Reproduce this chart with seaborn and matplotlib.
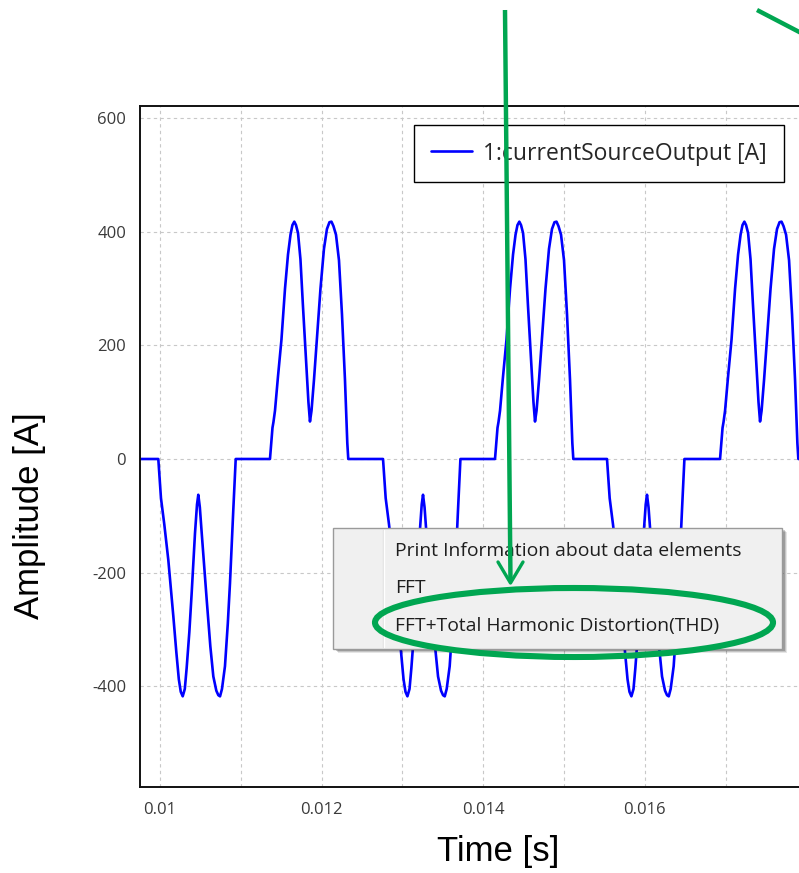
import pandas as pd
import seaborn as sns
import matplotlib.pyplot as plt
from matplotlib.patches import Rectangle, Ellipse
from matplotlib.lines import Line2D

# --- data ---
# start time of each current pulse [s] and its polarity
pulse_starts = [0.009979, 0.011361, 0.012760, 0.014146, 0.015532, 0.016931]
pulse_kind = ["neg", "pos", "neg", "pos", "neg", "pos"]

# positive pulse: offset from pulse start [us] and amplitude [A]
pos_offset_us = [0, 31, 43, 62, 99, 142, 186, 223, 254, 278, 301, 322, 347, 377, 408, 446, 476,
                 495, 514, 545, 582, 625, 668, 705, 736, 761, 786, 817, 854, 891, 928, 957, 969]
pos_amp = [0, 55, 65, 85, 145, 210, 300, 360, 395, 412, 418, 412, 398, 352, 270, 175, 100,
           66, 85, 140, 215, 300, 370, 405, 417, 418, 410, 395, 350, 255, 140, 28, 0]

# negative pulse: offset from pulse start [us] and amplitude [A]
neg_offset_us = [0, 33, 74, 124, 186, 223, 254, 278, 302, 328, 351, 384, 413, 454, 479,
                 495, 514, 537, 599, 644, 681, 718, 743, 764, 788, 825, 860, 887, 928, 958]
neg_amp = [0, -69, -115, -178, -277, -340, -388, -410, -418, -405, -368, -305, -236, -131, -80,
           -63, -85, -130, -248, -330, -383, -408, -416, -418, -405, -365, -290, -219, -90, 0]

t_first, t_last = 0.00975, 0.01866

x_ticks = [0.010, 0.012, 0.014, 0.016]
x_labels = ["0.01", "0.012", "0.014", "0.016"]
x_minor = [0.011, 0.013, 0.015, 0.017]
y_ticks = [600, 400, 200, 0, -200, -400]
y_labels = ["600", "400", "200", "0", "-200", "-400"]

menu_items = ["Print Information about data elements", "FFT", "FFT+Total Harmonic Distortion(THD)"]

# build the time series from the pulses
t = [t_first]
amp = [0]
for start, kind in zip(pulse_starts, pulse_kind):
    off, val = (pos_offset_us, pos_amp) if kind == "pos" else (neg_offset_us, neg_amp)
    t += [start + o * 1e-6 for o in off]
    amp += val
t.append(t_last)
amp.append(0)
df = pd.DataFrame({"time": t, "amplitude": amp})

# --- plot ---
sns.set_style("white")
plt.rcParams["font.family"] = ["Open Sans", "DejaVu Sans"]

W, H = 799, 873
fig = plt.figure(figsize=(W / 100, H / 100), dpi=100)
ax = fig.add_axes([140 / W, 1 - 787 / H, 720 / W, 681 / H])

sns.lineplot(data=df, x="time", y="amplitude", color="#0000ff", lw=1.9, estimator=None,
             sort=False, label="1:currentSourceOutput [A]", ax=ax)

ax.set_xlim(0.0097525, 0.018663)
ax.set_ylim(-577.7, 621.7)
ax.set_xticks(x_ticks)
ax.set_xticklabels(x_labels)
ax.set_xticks(x_minor, minor=True)
ax.set_yticks(y_ticks)
ax.set_yticklabels(y_labels)
ax.tick_params(axis="both", which="major", direction="inout", length=12, width=1.4,
               color="#111111", labelsize=12, labelcolor="#3a3a3a")
ax.tick_params(axis="x", which="major", pad=5)
ax.tick_params(axis="y", which="major", pad=4)
ax.tick_params(axis="x", which="minor", length=0)
ax.grid(True, which="both", axis="x", color="#c8c8c8", lw=0.8, ls=(0, (3, 3)))
ax.grid(True, which="major", axis="y", color="#c8c8c8", lw=0.8, ls=(0, (3, 3)))
for side in ["left", "bottom", "top"]:
    ax.spines[side].set_linewidth(1.4)
    ax.spines[side].set_color("#111111")
ax.spines["right"].set_visible(False)

ax.set_xlabel("Time [s]", fontsize=25, family="Liberation Sans", color="black", va="center")
ax.set_ylabel("Amplitude [A]", fontsize=25, family="Liberation Sans", color="black", va="center")
ax.xaxis.set_label_coords(0.497, (787 - 852) / 681)
ax.yaxis.set_label_coords((30 - 140) / 720, (787 - 516) / 681)

leg = ax.legend(loc="upper left", bbox_to_anchor=((414 - 140) / 720, (787 - 125) / 681),
                borderaxespad=0, fancybox=False, edgecolor="black", framealpha=1,
                prop={"family": "Open Sans", "size": 16.5}, handlelength=1.83,
                handletextpad=0.48, borderpad=0.72)
leg.get_frame().set_linewidth(1.0)
for line in leg.get_lines():
    line.set_linewidth(1.9)


# --- context menu and green annotation, placed in screen pixels ---
def fx(x):
    return x / W


def fy(y):
    return 1 - y / H


for k, a in enumerate([0.10, 0.14, 0.20]):
    d = 4 - k
    fig.add_artist(Rectangle((fx(333 + d + 1), fy(649 + d)), (449) / W, (121) / H,
                             transform=fig.transFigure, facecolor="#000000", alpha=a,
                             edgecolor="none", zorder=5))
fig.add_artist(Rectangle((fx(333), fy(649)), 449 / W, 121 / H, transform=fig.transFigure,
                         facecolor="#f0f0f0", edgecolor="#9a9a9a", lw=1.0, zorder=6))
fig.add_artist(Line2D([fx(383), fx(383)], [fy(530), fy(647)], transform=fig.transFigure,
                      color="#e0e0e0", lw=1.0, zorder=7))
fig.add_artist(Line2D([fx(384), fx(384)], [fy(530), fy(647)], transform=fig.transFigure,
                      color="#ffffff", lw=1.0, zorder=7))
for label, yc in zip(menu_items, [551.5, 588, 626.5]):
    fig.text(fx(395), fy(yc), label, fontsize=13.9, family="Open Sans", color="#1e1e1e",
             ha="left", va="center", zorder=8)

green = "#00a651"
fig.add_artist(Ellipse((fx(574), fy(622.5)), 398 / W, 69 / H, transform=fig.transFigure,
                       facecolor="none", edgecolor=green, lw=4.4, zorder=9))
fig.add_artist(Line2D([fx(505), fx(510.5)], [fy(10), fy(582)], transform=fig.transFigure,
                      color=green, lw=3.2, solid_capstyle="butt", zorder=9))
fig.add_artist(Line2D([fx(498), fx(510.5), fx(523)], [fy(562), fy(583), fy(562)],
                      transform=fig.transFigure, color=green, lw=2.4, zorder=9))
fig.add_artist(Line2D([fx(757), fx(830)], [fy(10), fy(48)], transform=fig.transFigure,
                      color=green, lw=3.2, solid_capstyle="butt", zorder=9))

fig.savefig("out.png", dpi=100)
